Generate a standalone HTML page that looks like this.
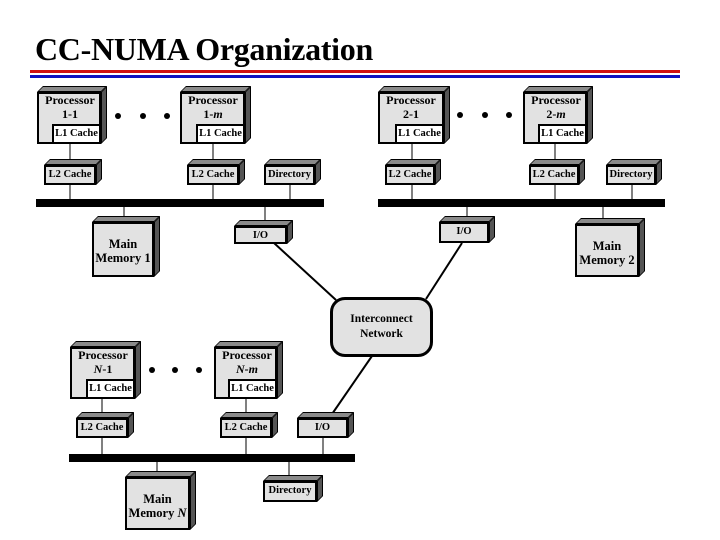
<!DOCTYPE html>
<html><head><meta charset="utf-8"><style>
body{margin:0;width:720px;height:540px;background:#fff;position:relative;overflow:hidden;font-family:"Liberation Serif",serif;}
.t{position:absolute;left:35px;top:31px;font-size:32px;font-weight:bold;white-space:nowrap;letter-spacing:-0.3px;}
.b{position:absolute;border:2px solid #000;background:#e2e2e2;box-sizing:border-box;font-weight:bold;font-size:11px;text-align:center;line-height:1.15;}
.b::before{content:'';position:absolute;left:-2px;top:-8px;width:calc(100% + 4px);height:6px;background:#8a8a8a;border:1px solid #000;box-sizing:border-box;transform:skewX(-45deg);transform-origin:bottom left;}
.b::after{content:'';position:absolute;left:100%;margin-left:2px;top:-2px;width:6px;height:calc(100% + 4px);background:#555;border:1px solid #000;box-sizing:border-box;transform:skewY(-45deg);transform-origin:top left;}
.p{text-align:left;font-size:12px;}
.p span{display:block;text-align:center;width:62px;}
.l1{position:absolute;right:-2px;bottom:-2px;width:49px;height:20px;border:2px solid #000;background:#fff;box-sizing:border-box;font-size:10.5px;line-height:16px;text-align:center;}
.s{line-height:15px;font-size:10.5px;}
.m{font-size:12.5px;padding-top:13px;}
.net{position:absolute;left:330px;top:297px;width:103px;height:60px;border:3px solid #000;border-radius:15px;background:#e2e2e2;box-sizing:border-box;font-weight:bold;font-size:11.5px;text-align:center;padding-top:12px;line-height:1.3;}
svg{position:absolute;left:0;top:0;}
</style></head><body>
<div class="t">CC-NUMA Organization</div>
<svg width="720" height="540">
<rect x="30" y="70" width="650" height="3" fill="#d01010"/>
<rect x="30" y="75" width="650" height="3" fill="#1010c0"/>
<g stroke="#000" stroke-width="1">
<line x1="70" y1="143" x2="70" y2="200"/><line x1="213" y1="143" x2="213" y2="200"/><line x1="290" y1="184" x2="290" y2="200"/>
<line x1="124" y1="206" x2="124" y2="222"/><line x1="265" y1="206" x2="265" y2="226"/>
<line x1="412" y1="143" x2="412" y2="200"/><line x1="555" y1="143" x2="555" y2="200"/><line x1="632" y1="184" x2="632" y2="200"/>
<line x1="467" y1="206" x2="467" y2="222"/><line x1="603" y1="206" x2="603" y2="224"/>
<line x1="102" y1="398" x2="102" y2="455"/><line x1="246" y1="398" x2="246" y2="455"/><line x1="323" y1="437" x2="323" y2="455"/>
<line x1="157" y1="461" x2="157" y2="477"/><line x1="289" y1="461" x2="289" y2="481"/>
</g>
<g stroke="#000" stroke-width="2">
<line x1="274" y1="243" x2="336" y2="300"/><line x1="462" y1="243" x2="426" y2="299"/><line x1="372" y1="356" x2="330" y2="417"/>
</g>
<rect x="36" y="199" width="288" height="8" fill="#000"/>
<rect x="378" y="199" width="287" height="8" fill="#000"/>
<rect x="69" y="454" width="286" height="8" fill="#000"/>
<g fill="#000">
<circle cx="118" cy="116" r="3"/><circle cx="143" cy="116" r="3"/><circle cx="167" cy="116" r="3"/>
<circle cx="460" cy="115" r="3"/><circle cx="485" cy="115" r="3"/><circle cx="509" cy="115" r="3"/>
<circle cx="152" cy="370" r="3"/><circle cx="175" cy="370" r="3"/><circle cx="199" cy="370" r="3"/>
</g>
</svg>

<div class="b p" style="left:37px;top:92px;width:64px;height:52px"><span>Processor<br>1-1</span><div class="l1">L1 Cache</div></div>
<div class="b p" style="left:180px;top:92px;width:65px;height:52px"><span>Processor<br>1-<i>m</i></span><div class="l1">L1 Cache</div></div>
<div class="b s" style="left:44px;top:165px;width:52px;height:20px">L2 Cache</div>
<div class="b s" style="left:187px;top:165px;width:52px;height:20px">L2 Cache</div>
<div class="b s" style="left:264px;top:165px;width:51px;height:20px">Directory</div>
<div class="b m" style="left:92px;top:222px;width:62px;height:55px">Main<br>Memory 1</div>
<div class="b s" style="left:234px;top:226px;width:53px;height:18px">I/O</div>

<div class="b p" style="left:378px;top:92px;width:66px;height:52px"><span>Processor<br>2-1</span><div class="l1">L1 Cache</div></div>
<div class="b p" style="left:523px;top:92px;width:64px;height:52px"><span>Processor<br>2-<i>m</i></span><div class="l1">L1 Cache</div></div>
<div class="b s" style="left:385px;top:165px;width:50px;height:20px">L2 Cache</div>
<div class="b s" style="left:529px;top:165px;width:50px;height:20px">L2 Cache</div>
<div class="b s" style="left:606px;top:165px;width:50px;height:20px">Directory</div>
<div class="b s" style="left:439px;top:222px;width:50px;height:21px">I/O</div>
<div class="b m" style="left:575px;top:224px;width:64px;height:53px">Main<br>Memory 2</div>

<div class="net">Interconnect<br>Network</div>

<div class="b p" style="left:70px;top:347px;width:65px;height:52px"><span>Processor<br><i>N</i>-1</span><div class="l1">L1 Cache</div></div>
<div class="b p" style="left:214px;top:347px;width:63px;height:52px"><span>Processor<br><i>N-m</i></span><div class="l1">L1 Cache</div></div>
<div class="b s" style="left:76px;top:418px;width:52px;height:20px">L2 Cache</div>
<div class="b s" style="left:220px;top:418px;width:52px;height:20px">L2 Cache</div>
<div class="b s" style="left:297px;top:418px;width:51px;height:20px">I/O</div>
<div class="b m" style="left:125px;top:477px;width:65px;height:53px">Main<br>Memory <i>N</i></div>
<div class="b s" style="left:263px;top:481px;width:54px;height:21px">Directory</div>
</body></html>
